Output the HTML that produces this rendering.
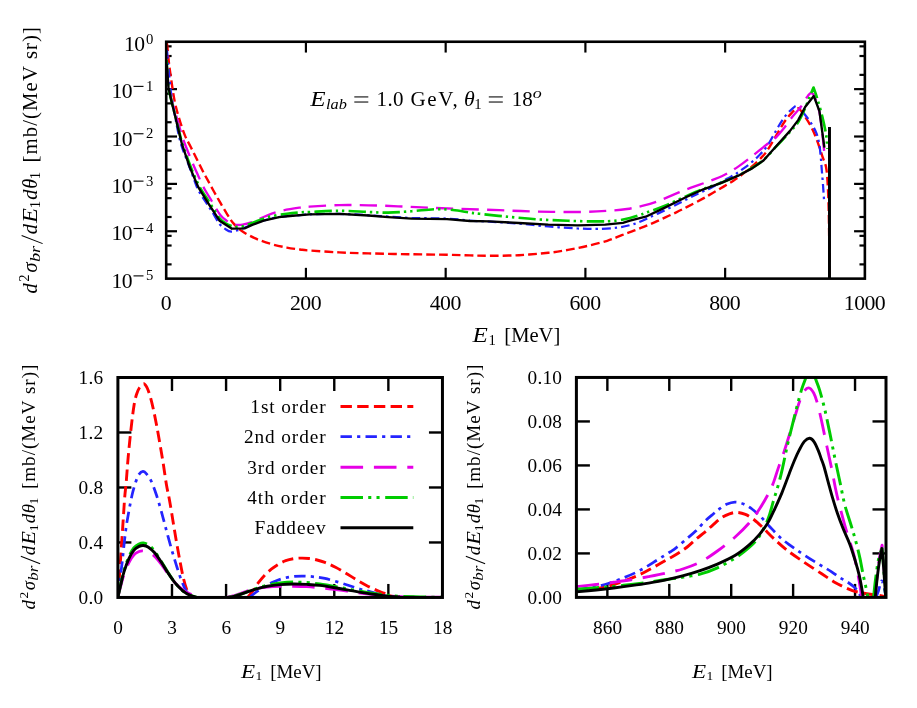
<!DOCTYPE html>
<html><head><meta charset="utf-8"><title>chart</title>
<style>html,body{margin:0;padding:0;background:#fff;}svg{display:block;will-change:transform;}</style>
</head><body>
<svg width="917" height="708" viewBox="0 0 917 708" font-family="'Liberation Serif', serif" fill="#000">
<rect width="917" height="708" fill="#fff"/>
<defs>
<clipPath id="ct"><rect x="166.2" y="40.25" width="698.67" height="239.89"/></clipPath>
<clipPath id="cl"><rect x="117.9" y="376" width="324.55" height="222.95"/></clipPath>
<clipPath id="cr"><rect x="576.4" y="375.95" width="309.6" height="222.95"/></clipPath>
</defs>
<g id="ticks">
<line x1="305.93" y1="278.64" x2="305.93" y2="267.84" stroke="#000" stroke-width="2.2"/>
<line x1="305.93" y1="41.75" x2="305.93" y2="52.55" stroke="#000" stroke-width="2.2"/>
<line x1="445.67" y1="278.64" x2="445.67" y2="267.84" stroke="#000" stroke-width="2.2"/>
<line x1="445.67" y1="41.75" x2="445.67" y2="52.55" stroke="#000" stroke-width="2.2"/>
<line x1="585.4" y1="278.64" x2="585.4" y2="267.84" stroke="#000" stroke-width="2.2"/>
<line x1="585.4" y1="41.75" x2="585.4" y2="52.55" stroke="#000" stroke-width="2.2"/>
<line x1="725.14" y1="278.64" x2="725.14" y2="267.84" stroke="#000" stroke-width="2.2"/>
<line x1="725.14" y1="41.75" x2="725.14" y2="52.55" stroke="#000" stroke-width="2.2"/>
<line x1="166.2" y1="231.26" x2="177" y2="231.26" stroke="#000" stroke-width="2.2"/>
<line x1="864.87" y1="231.26" x2="854.07" y2="231.26" stroke="#000" stroke-width="2.2"/>
<line x1="166.2" y1="183.88" x2="177" y2="183.88" stroke="#000" stroke-width="2.2"/>
<line x1="864.87" y1="183.88" x2="854.07" y2="183.88" stroke="#000" stroke-width="2.2"/>
<line x1="166.2" y1="136.51" x2="177" y2="136.51" stroke="#000" stroke-width="2.2"/>
<line x1="864.87" y1="136.51" x2="854.07" y2="136.51" stroke="#000" stroke-width="2.2"/>
<line x1="166.2" y1="89.13" x2="177" y2="89.13" stroke="#000" stroke-width="2.2"/>
<line x1="864.87" y1="89.13" x2="854.07" y2="89.13" stroke="#000" stroke-width="2.2"/>
<line x1="166.2" y1="264.38" x2="171.6" y2="264.38" stroke="#000" stroke-width="2.2"/>
<line x1="864.87" y1="264.38" x2="859.47" y2="264.38" stroke="#000" stroke-width="2.2"/>
<line x1="166.2" y1="245.52" x2="171.6" y2="245.52" stroke="#000" stroke-width="2.2"/>
<line x1="864.87" y1="245.52" x2="859.47" y2="245.52" stroke="#000" stroke-width="2.2"/>
<line x1="166.2" y1="235.85" x2="171.6" y2="235.85" stroke="#000" stroke-width="2.2"/>
<line x1="864.87" y1="235.85" x2="859.47" y2="235.85" stroke="#000" stroke-width="2.2"/>
<line x1="166.2" y1="217" x2="171.6" y2="217" stroke="#000" stroke-width="2.2"/>
<line x1="864.87" y1="217" x2="859.47" y2="217" stroke="#000" stroke-width="2.2"/>
<line x1="166.2" y1="198.15" x2="171.6" y2="198.15" stroke="#000" stroke-width="2.2"/>
<line x1="864.87" y1="198.15" x2="859.47" y2="198.15" stroke="#000" stroke-width="2.2"/>
<line x1="166.2" y1="188.48" x2="171.6" y2="188.48" stroke="#000" stroke-width="2.2"/>
<line x1="864.87" y1="188.48" x2="859.47" y2="188.48" stroke="#000" stroke-width="2.2"/>
<line x1="166.2" y1="169.62" x2="171.6" y2="169.62" stroke="#000" stroke-width="2.2"/>
<line x1="864.87" y1="169.62" x2="859.47" y2="169.62" stroke="#000" stroke-width="2.2"/>
<line x1="166.2" y1="150.77" x2="171.6" y2="150.77" stroke="#000" stroke-width="2.2"/>
<line x1="864.87" y1="150.77" x2="859.47" y2="150.77" stroke="#000" stroke-width="2.2"/>
<line x1="166.2" y1="141.1" x2="171.6" y2="141.1" stroke="#000" stroke-width="2.2"/>
<line x1="864.87" y1="141.1" x2="859.47" y2="141.1" stroke="#000" stroke-width="2.2"/>
<line x1="166.2" y1="122.24" x2="171.6" y2="122.24" stroke="#000" stroke-width="2.2"/>
<line x1="864.87" y1="122.24" x2="859.47" y2="122.24" stroke="#000" stroke-width="2.2"/>
<line x1="166.2" y1="103.39" x2="171.6" y2="103.39" stroke="#000" stroke-width="2.2"/>
<line x1="864.87" y1="103.39" x2="859.47" y2="103.39" stroke="#000" stroke-width="2.2"/>
<line x1="166.2" y1="93.72" x2="171.6" y2="93.72" stroke="#000" stroke-width="2.2"/>
<line x1="864.87" y1="93.72" x2="859.47" y2="93.72" stroke="#000" stroke-width="2.2"/>
<line x1="166.2" y1="74.87" x2="171.6" y2="74.87" stroke="#000" stroke-width="2.2"/>
<line x1="864.87" y1="74.87" x2="859.47" y2="74.87" stroke="#000" stroke-width="2.2"/>
<line x1="166.2" y1="56.01" x2="171.6" y2="56.01" stroke="#000" stroke-width="2.2"/>
<line x1="864.87" y1="56.01" x2="859.47" y2="56.01" stroke="#000" stroke-width="2.2"/>
<line x1="166.2" y1="46.34" x2="171.6" y2="46.34" stroke="#000" stroke-width="2.2"/>
<line x1="864.87" y1="46.34" x2="859.47" y2="46.34" stroke="#000" stroke-width="2.2"/>
<line x1="171.99" y1="597.45" x2="171.99" y2="583.95" stroke="#000" stroke-width="2.4"/>
<line x1="171.99" y1="377.5" x2="171.99" y2="391" stroke="#000" stroke-width="2.4"/>
<line x1="226.08" y1="597.45" x2="226.08" y2="583.95" stroke="#000" stroke-width="2.4"/>
<line x1="226.08" y1="377.5" x2="226.08" y2="391" stroke="#000" stroke-width="2.4"/>
<line x1="280.17" y1="597.45" x2="280.17" y2="583.95" stroke="#000" stroke-width="2.4"/>
<line x1="280.17" y1="377.5" x2="280.17" y2="391" stroke="#000" stroke-width="2.4"/>
<line x1="334.27" y1="597.45" x2="334.27" y2="583.95" stroke="#000" stroke-width="2.4"/>
<line x1="334.27" y1="377.5" x2="334.27" y2="391" stroke="#000" stroke-width="2.4"/>
<line x1="388.36" y1="597.45" x2="388.36" y2="583.95" stroke="#000" stroke-width="2.4"/>
<line x1="388.36" y1="377.5" x2="388.36" y2="391" stroke="#000" stroke-width="2.4"/>
<line x1="117.9" y1="542.46" x2="131.4" y2="542.46" stroke="#000" stroke-width="2.4"/>
<line x1="442.45" y1="542.46" x2="428.95" y2="542.46" stroke="#000" stroke-width="2.4"/>
<line x1="117.9" y1="487.48" x2="131.4" y2="487.48" stroke="#000" stroke-width="2.4"/>
<line x1="442.45" y1="487.48" x2="428.95" y2="487.48" stroke="#000" stroke-width="2.4"/>
<line x1="117.9" y1="432.49" x2="131.4" y2="432.49" stroke="#000" stroke-width="2.4"/>
<line x1="442.45" y1="432.49" x2="428.95" y2="432.49" stroke="#000" stroke-width="2.4"/>
<line x1="607.36" y1="597.4" x2="607.36" y2="583.9" stroke="#000" stroke-width="2.4"/>
<line x1="607.36" y1="377.45" x2="607.36" y2="390.95" stroke="#000" stroke-width="2.4"/>
<line x1="669.28" y1="597.4" x2="669.28" y2="583.9" stroke="#000" stroke-width="2.4"/>
<line x1="669.28" y1="377.45" x2="669.28" y2="390.95" stroke="#000" stroke-width="2.4"/>
<line x1="731.2" y1="597.4" x2="731.2" y2="583.9" stroke="#000" stroke-width="2.4"/>
<line x1="731.2" y1="377.45" x2="731.2" y2="390.95" stroke="#000" stroke-width="2.4"/>
<line x1="793.12" y1="597.4" x2="793.12" y2="583.9" stroke="#000" stroke-width="2.4"/>
<line x1="793.12" y1="377.45" x2="793.12" y2="390.95" stroke="#000" stroke-width="2.4"/>
<line x1="855.04" y1="597.4" x2="855.04" y2="583.9" stroke="#000" stroke-width="2.4"/>
<line x1="855.04" y1="377.45" x2="855.04" y2="390.95" stroke="#000" stroke-width="2.4"/>
<line x1="576.4" y1="553.41" x2="589.9" y2="553.41" stroke="#000" stroke-width="2.4"/>
<line x1="886" y1="553.41" x2="872.5" y2="553.41" stroke="#000" stroke-width="2.4"/>
<line x1="576.4" y1="509.42" x2="589.9" y2="509.42" stroke="#000" stroke-width="2.4"/>
<line x1="886" y1="509.42" x2="872.5" y2="509.42" stroke="#000" stroke-width="2.4"/>
<line x1="576.4" y1="465.43" x2="589.9" y2="465.43" stroke="#000" stroke-width="2.4"/>
<line x1="886" y1="465.43" x2="872.5" y2="465.43" stroke="#000" stroke-width="2.4"/>
<line x1="576.4" y1="421.44" x2="589.9" y2="421.44" stroke="#000" stroke-width="2.4"/>
<line x1="886" y1="421.44" x2="872.5" y2="421.44" stroke="#000" stroke-width="2.4"/>
</g>
<g id="curves-top">
<path d="M166.8 42.5C166.9 43.25 167.05 43.67 167.4 47C167.75 50.33 168.25 56.97 168.9 62.5C169.55 68.03 170.33 73.72 171.3 80.2C172.27 86.68 173.45 95.22 174.7 101.4C175.95 107.58 177.13 111.72 178.8 117.3C180.47 122.88 182.68 129.9 184.7 134.9C186.72 139.9 188.83 143.17 190.9 147.3C192.97 151.43 195.08 155.67 197.1 159.7C199.12 163.73 201.18 168 203 171.5C204.82 175 205.57 176.28 208 180.7C210.43 185.12 214.4 192.4 217.6 198C220.8 203.6 224.48 209.98 227.2 214.3C229.92 218.62 231.33 221.02 233.9 223.9C236.47 226.78 238.92 229.13 242.6 231.6C246.28 234.07 251.2 236.62 256 238.7C260.8 240.78 266.27 242.62 271.4 244.1C276.53 245.58 282.03 246.7 286.8 247.6C291.57 248.5 296.2 249.02 300 249.5C303.8 249.98 303.08 250.02 309.6 250.5C316.12 250.98 329.28 251.92 339.1 252.4C348.92 252.88 357.05 253.1 368.5 253.4C379.95 253.7 394.72 253.97 407.8 254.2C420.88 254.43 436.63 254.6 447 254.8C457.37 255 462.93 255.23 470 255.4C477.07 255.57 481.25 255.83 489.4 255.8C497.55 255.77 509.08 255.7 518.9 255.2C528.72 254.7 540.12 253.68 548.3 252.8C556.48 251.92 561.45 251.05 568 249.9C574.55 248.75 581.07 247.42 587.6 245.9C594.13 244.38 601.5 242.58 607.2 240.8C612.9 239.02 617.55 236.82 621.8 235.2C626.05 233.58 629.07 232.48 632.7 231.1C636.33 229.72 639.97 228.37 643.6 226.9C647.23 225.43 650.87 223.9 654.5 222.3C658.13 220.7 661.77 218.97 665.4 217.3C669.03 215.63 672.67 214.03 676.3 212.3C679.93 210.57 682.85 209.13 687.2 206.9C691.55 204.67 698.15 201.22 702.4 198.9C706.65 196.58 709.17 195.05 712.7 193C716.23 190.95 720.15 188.65 723.6 186.6C727.05 184.55 730.33 182.7 733.4 180.7C736.47 178.7 738.98 176.88 742 174.6C745.02 172.32 748.28 169.83 751.5 167C754.72 164.17 758.65 160.38 761.3 157.6C763.95 154.82 764.58 154.55 767.4 150.3C770.22 146.05 775.23 137.02 778.2 132.1C781.17 127.18 782.9 124.05 785.2 120.8C787.5 117.55 789.87 114.7 792 112.6C794.13 110.5 796 107.77 798 108.2C800 108.63 801.83 112.15 804 115.2C806.17 118.25 808.9 122.5 811 126.5C813.1 130.5 814.72 134.25 816.6 139.2C818.48 144.15 820.65 151.1 822.3 156.2C823.95 161.3 825.48 162.5 826.5 169.8C827.52 177.1 827.95 188.3 828.4 200C828.85 211.7 829.03 227 829.2 240C829.37 253 829.37 271.67 829.4 278" fill="none" stroke="#ff0000" stroke-width="2.4" stroke-linejoin="round" stroke-dasharray="8.7 4.04" clip-path="url(#ct)"/>
<path d="M167 50C167.17 52 167.6 57.33 168 62C168.4 66.67 168.92 73 169.4 78C169.88 83 170.35 87.83 170.9 92C171.45 96.17 171.97 98.75 172.7 103C173.43 107.25 174.42 112.75 175.3 117.5C176.18 122.25 176.98 126.83 178 131.5C179.02 136.17 179.83 140.5 181.4 145.5C182.97 150.5 185.38 156.08 187.4 161.5C189.42 166.92 191.73 173.33 193.5 178C195.27 182.67 196.08 185.67 198 189.5C199.92 193.33 202.68 197.33 205 201C207.32 204.67 209.48 207.68 211.9 211.5C214.32 215.32 217.15 220.9 219.5 223.9C221.85 226.9 224.07 228.22 226 229.5C227.93 230.78 229.1 231.48 231.1 231.6C233.1 231.72 235.77 230.83 238 230.2C240.23 229.57 242.13 228.75 244.5 227.8C246.87 226.85 249 225.72 252.2 224.5C255.4 223.28 259.22 221.75 263.7 220.5C268.18 219.25 273.05 217.88 279.1 217C285.15 216.12 294.92 215.65 300 215.2C305.08 214.75 303.08 214.52 309.6 214.3C316.12 214.08 329.28 213.73 339.1 213.9C348.92 214.07 360.32 214.85 368.5 215.3C376.68 215.75 381 216.15 388.2 216.6C395.4 217.05 401.9 217.67 411.7 218C421.5 218.33 437.28 218.17 447 218.6C456.72 219.03 462.93 220.1 470 220.6C477.07 221.1 481.25 221.1 489.4 221.6C497.55 222.1 509.08 222.78 518.9 223.6C528.72 224.42 538.48 225.68 548.3 226.5C558.12 227.32 569.62 228.1 577.8 228.5C585.98 228.9 590.87 229.03 597.4 228.9C603.93 228.77 611.43 228.37 617 227.7C622.57 227.03 626.97 225.88 630.8 224.9C634.63 223.92 637.23 222.88 640 221.8C642.77 220.72 643.25 220.33 647.4 218.4C651.55 216.47 659.47 212.8 664.9 210.2C670.33 207.6 675.3 205.17 680 202.8C684.7 200.43 689.73 197.7 693.1 196C696.47 194.3 697.12 194.03 700.2 192.6C703.28 191.17 707.15 189.7 711.6 187.4C716.05 185.1 723.05 180.93 726.9 178.8C730.75 176.67 732.18 176.13 734.7 174.6C737.22 173.07 739.37 171.5 742 169.6C744.63 167.7 747.75 165.47 750.5 163.2C753.25 160.93 755.68 158.92 758.5 156C761.32 153.08 764.08 150.62 767.4 145.7C770.72 140.78 775.4 131.47 778.4 126.5C781.4 121.53 783.1 118.85 785.4 115.9C787.7 112.95 790.17 110.45 792.2 108.8C794.23 107.15 795.6 105.17 797.6 106C799.6 106.83 801.97 110.97 804.2 113.8C806.43 116.63 808.93 119.7 811 123C813.07 126.3 815.2 129.95 816.6 133.6C818 137.25 818.7 140.9 819.4 144.9C820.1 148.9 820.4 153.42 820.8 157.6C821.2 161.78 821.43 165.43 821.8 170C822.17 174.57 822.63 180.1 823 185C823.37 189.9 823.83 197 824 199.4" fill="none" stroke="#2424ff" stroke-width="2.25" stroke-linejoin="round" stroke-dasharray="8.7 3.97 2.44 3.97" clip-path="url(#ct)"/>
<path d="M166.6 56C166.68 58 166.78 63 167.1 68C167.42 73 167.75 80.67 168.5 86C169.25 91.33 170.42 95.42 171.6 100C172.78 104.58 174.27 108.92 175.6 113.5C176.93 118.08 178.27 123 179.6 127.5C180.93 132 181.82 135.5 183.6 140.5C185.38 145.5 188.07 152.08 190.3 157.5C192.53 162.92 194.72 167.92 197 173C199.28 178.08 201.5 183.25 204 188C206.5 192.75 209.28 197 212 201.5C214.72 206 217.88 211.82 220.3 215C222.72 218.18 224.62 219.18 226.5 220.6C228.38 222.02 229.85 222.78 231.6 223.5C233.35 224.22 235.17 224.72 237 224.9C238.83 225.08 240.07 225.08 242.6 224.6C245.13 224.12 248.05 223.55 252.2 222C256.35 220.45 262.38 217.22 267.5 215.3C272.62 213.38 277.48 211.78 282.9 210.5C288.32 209.22 295.55 208.23 300 207.6C304.45 206.97 303.08 207.12 309.6 206.7C316.12 206.28 329.28 205.33 339.1 205.1C348.92 204.87 358.68 205.1 368.5 205.3C378.32 205.5 388.18 205.9 398 206.3C407.82 206.7 417.07 207.28 427.4 207.7C437.73 208.12 448.02 208.38 460 208.8C471.98 209.22 486.22 209.73 499.3 210.2C512.38 210.67 525.42 211.3 538.5 211.6C551.58 211.9 566.35 212.13 577.8 212C589.25 211.87 599.02 211.3 607.2 210.8C615.38 210.3 621.07 209.82 626.9 209C632.73 208.18 637.32 207.08 642.2 205.9C647.08 204.72 650.97 203.78 656.2 201.9C661.43 200.02 667.78 196.98 673.6 194.6C679.42 192.22 685.28 189.78 691.1 187.6C696.92 185.42 702.98 183.6 708.5 181.5C714.02 179.4 719.25 177.48 724.2 175C729.15 172.52 733.55 169.73 738.2 166.6C742.85 163.47 746.87 160.27 752.1 156.2C757.33 152.13 765.92 145.03 769.6 142.2C773.28 139.37 771.78 141.58 774.2 139.2C776.62 136.82 781.03 131.67 784.1 127.9C787.17 124.13 789.88 120.02 792.6 116.6C795.32 113.18 798.05 110.58 800.4 107.4C802.75 104.22 804.93 99.9 806.7 97.5C808.47 95.1 809.7 93.17 811 93C812.3 92.83 813.1 93.33 814.5 96.5C815.9 99.67 818.07 105.58 819.4 112C820.73 118.42 821.63 127.67 822.5 135C823.37 142.33 824.25 152.5 824.6 156" fill="none" stroke="#e600e6" stroke-width="2.35" stroke-linejoin="round" stroke-dasharray="17.24 8.24" clip-path="url(#ct)" stroke-dashoffset="15.9"/>
<path d="M166.6 60C166.7 61.67 166.88 65.5 167.2 70C167.52 74.5 167.78 81.83 168.5 87C169.22 92.17 170.4 96.33 171.5 101C172.6 105.67 173.88 110.17 175.1 115C176.32 119.83 177.58 125.2 178.8 130C180.02 134.8 180.5 137.88 182.4 143.8C184.3 149.72 187.5 158.63 190.2 165.5C192.9 172.37 195.97 179.75 198.6 185C201.23 190.25 203.6 193.17 206 197C208.4 200.83 210.67 204.37 213 208C215.33 211.63 217.83 216.2 220 218.8C222.17 221.4 223.83 222.33 226 223.6C228.17 224.87 231 225.87 233 226.4C235 226.93 236.08 226.88 238 226.8C239.92 226.72 241.5 226.8 244.5 225.9C247.5 225 251.52 223 256 221.4C260.48 219.8 266.27 217.57 271.4 216.3C276.53 215.03 282.03 214.45 286.8 213.8C291.57 213.15 296.2 212.7 300 212.4C303.8 212.1 303.08 212.27 309.6 212C316.12 211.73 329.28 210.8 339.1 210.8C348.92 210.8 360.32 211.7 368.5 212C376.68 212.3 381 212.73 388.2 212.6C395.4 212.47 403.85 211.77 411.7 211.2C419.55 210.63 428.43 209.4 435.3 209.2C442.17 209 447.12 209.43 452.9 210C458.68 210.57 465.55 211.97 470 212.6C474.45 213.23 473.08 213.08 479.6 213.8C486.12 214.52 499.28 215.97 509.1 216.9C518.92 217.83 528.68 218.75 538.5 219.4C548.32 220.05 558.18 220.47 568 220.8C577.82 221.13 589.23 221.43 597.4 221.4C605.57 221.37 611.43 221.2 617 220.6C622.57 220 626.97 218.73 630.8 217.8C634.63 216.87 637.23 215.93 640 215C642.77 214.07 643.25 213.73 647.4 212.2C651.55 210.67 658.5 208.43 664.9 205.8C671.3 203.17 679.4 199.2 685.8 196.4C692.2 193.6 697.48 191.23 703.3 189C709.12 186.77 714.88 185.27 720.7 183C726.52 180.73 732.97 177.93 738.2 175.4C743.43 172.87 747.88 170.37 752.1 167.8C756.32 165.23 759.42 163.6 763.5 160C767.58 156.4 772.18 150.9 776.6 146.2C781.02 141.5 786.37 135.87 790 131.8C793.63 127.73 795.8 125.93 798.4 121.8C801 117.67 803.67 111.3 805.6 107C807.53 102.7 808.68 99.25 810 96C811.32 92.75 813.5 87.5 813.5 87.5C813.5 87.5 815.93 94.15 817.4 99C818.87 103.85 820.87 110.77 822.3 116.6C823.73 122.43 825.22 129.43 826 134C826.78 138.57 826.78 141.5 827 144C827.22 146.5 827.25 148.17 827.3 149" fill="none" stroke="#00cc00" stroke-width="2.65" stroke-linejoin="round" stroke-dasharray="17.17 3.97 2.37 3.97 2.37 4.27" clip-path="url(#ct)" stroke-dashoffset="4.22"/>
<path d="M166.6 64L167.2 70L168.5 87.2L171.5 101.4L175 115.5L178.6 130.5L182.1 144.7L189.8 167.3L198.4 187.4L208 202.8L219.5 220.7L232 228.7L244.5 228.4L252.2 224.9L263.7 220.7L279.1 217.2L290 216L309.6 214.3L339.1 213.9L368.5 215.5L388.2 217.1L411.7 218.7L447 219.1L470 221L489.4 221.4L518.9 223L548.3 224.6L577.8 225.3L605.3 224.7L622.9 222.8L630 220.7L645.7 216.7L664.9 207.6L685.8 197.2L703.3 189.3L720.7 183.2L738.2 175.7L752.1 168.4L763.5 160.5L776.6 145.7L790 130.9L798.2 120.1L805.3 106.7L813.8 96.1L819.4 111L824.4 147.7M829.5 127.2L829.5 278.5" fill="none" stroke="#000000" stroke-width="2.35" stroke-linejoin="round" clip-path="url(#ct)"/>
</g>
<line x1="829.45" y1="127.0" x2="829.45" y2="278.6" stroke="#000" stroke-width="2.9"/>
<g id="curves-bl">
<path d="M117.8 597.42C117.93 595.97 118.3 592.62 118.6 588.69C118.9 584.76 119.15 580.56 119.6 573.84C120.05 567.12 120.73 556.85 121.3 548.36C121.87 539.86 122.43 531.37 123 522.88C123.57 514.38 124.15 504.35 124.7 497.39C125.25 490.44 125.72 487.91 126.3 481.14C126.88 474.37 127.38 465.72 128.2 456.76C129.02 447.8 130.25 435.79 131.2 427.36C132.15 418.94 133.03 411.63 133.9 406.19C134.77 400.76 135.45 397.88 136.4 394.76C137.35 391.63 138.38 389.27 139.6 387.43C140.82 385.59 142.48 383.72 143.7 383.72C144.92 383.72 145.82 385.31 146.9 387.43C147.98 389.56 149.12 392.78 150.2 396.46C151.28 400.14 152.32 404.62 153.4 409.5C154.48 414.39 155.62 420.06 156.7 425.76C157.78 431.46 158.82 437.46 159.9 443.72C160.98 449.97 162.12 456.49 163.2 463.28C164.28 470.07 165.33 478.21 166.4 484.45C167.47 490.69 168.5 494.58 169.6 500.7C170.7 506.82 171.87 514.36 173 521.17C174.13 527.98 175.27 535.02 176.4 541.54C177.53 548.06 178.67 554.35 179.8 560.3C180.93 566.25 182.07 572.44 183.2 577.25C184.33 582.07 185.47 586.12 186.6 589.19C187.73 592.27 188.85 594.34 190 595.71C191.15 597.09 192.92 597.14 193.5 597.42M247.7 597.42C248.57 596.33 251.15 593.31 252.9 590.9C254.65 588.49 256.23 585.6 258.2 582.97C260.17 580.35 262.52 577.44 264.7 575.15C266.88 572.86 269.12 570.98 271.3 569.23C273.48 567.47 275.4 566.03 277.8 564.61C280.2 563.19 283.08 561.69 285.7 560.7C288.32 559.71 290.88 559.13 293.5 558.69C296.12 558.26 298.78 558.12 301.4 558.09C304.02 558.06 306.58 558.17 309.2 558.49C311.82 558.81 314.48 559.35 317.1 560C319.72 560.65 321.83 561.2 324.9 562.41C327.97 563.61 332 565.43 335.5 567.22C339 569.01 342.42 571.05 345.9 573.14C349.38 575.23 352.9 577.67 356.4 579.76C359.9 581.85 363.42 583.88 366.9 585.68C370.38 587.49 374.47 589.34 377.3 590.6C380.13 591.85 382.03 592.42 383.9 593.21C385.77 593.99 386.65 594.69 388.5 595.31C390.35 595.93 393.92 596.65 395 596.92" fill="none" stroke="#ff0000" stroke-width="2.9" stroke-linejoin="round" stroke-dasharray="11.4 5.3" clip-path="url(#cl)"/>
<path d="M117.8 597.42C118.03 595.46 118.75 589.31 119.2 585.68C119.65 582.05 120 579.59 120.5 575.65C121 571.7 121.35 569.39 122.2 562C123.05 554.61 124.48 539.81 125.6 531.3C126.72 522.79 127.78 517.16 128.9 510.94C130.02 504.72 131.17 498.8 132.3 493.98C133.43 489.17 134.62 485.27 135.7 482.04C136.78 478.82 137.6 476.39 138.8 474.62C140 472.85 141.55 471.46 142.9 471.41C144.25 471.36 145.48 472.63 146.9 474.32C148.32 476.01 149.87 478.26 151.4 481.54C152.93 484.82 154.47 489.08 156.1 493.98C157.73 498.88 159.52 504.98 161.2 510.94C162.88 516.89 164.52 523.46 166.2 529.7C167.88 535.94 169.6 542.42 171.3 548.36C173 554.3 174.7 559.93 176.4 565.31C178.1 570.7 179.8 576.27 181.5 580.67C183.2 585.06 184.93 589.03 186.6 591.7C188.27 594.38 190.27 595.76 191.5 596.72C192.73 597.67 193.58 597.3 194 597.42M249.7 597.42C250.47 596.77 252.45 594.93 254.3 593.51C256.15 592.09 258.63 590.31 260.8 588.89C262.97 587.47 265.12 586.18 267.3 584.98C269.48 583.78 271.28 582.76 273.9 581.67C276.52 580.58 279.73 579.33 283 578.46C286.27 577.59 290 576.85 293.5 576.45C297 576.05 300.5 575.98 304 576.05C307.5 576.12 311.02 576.45 314.5 576.85C317.98 577.25 320.97 577.59 324.9 578.46C328.83 579.33 333.72 580.77 338.1 582.07C342.48 583.37 347.28 585.03 351.2 586.28C355.12 587.54 358.77 588.78 361.6 589.59C364.43 590.41 365.63 590.51 368.2 591.2C370.77 591.89 374.37 592.96 377 593.71C379.63 594.46 381.5 595.15 384 595.71C386.5 596.28 390.67 596.88 392 597.12" fill="none" stroke="#2424ff" stroke-width="2.75" stroke-linejoin="round" stroke-dasharray="11.4 5.2 3.2 5.2" clip-path="url(#cl)"/>
<path d="M117.8 597.42C118.25 595.7 119.48 590.85 120.5 587.09C121.52 583.32 122.5 578.93 123.9 574.85C125.3 570.77 127.22 565.95 128.9 562.61C130.58 559.26 132.3 556.62 134 554.78C135.7 552.94 137.67 552.22 139.1 551.57C140.53 550.92 141.05 550.77 142.6 550.87C144.15 550.97 146.43 551.3 148.4 552.17C150.37 553.04 152.27 554.11 154.4 556.08C156.53 558.06 158.92 561.05 161.2 564.01C163.48 566.97 165.72 570.65 168.1 573.84C170.48 577.04 172.92 580.43 175.5 583.17C178.08 585.92 180.93 588.41 183.6 590.3C186.27 592.19 189.3 593.47 191.5 594.51C193.7 595.55 195.3 596.03 196.8 596.52C198.3 597 199.88 597.27 200.5 597.42M226.8 597.42C227.83 597.17 230.77 596.57 233 595.92C235.23 595.26 236.82 594.61 240.2 593.51C243.58 592.4 248.78 590.36 253.3 589.29C257.82 588.22 262.78 587.59 267.3 587.09C271.82 586.58 276.03 586.42 280.4 586.28C284.77 586.15 289.13 586.22 293.5 586.28C297.87 586.35 302.23 586.45 306.6 586.68C310.97 586.92 314.45 587.15 319.7 587.69C324.95 588.22 332.85 589.23 338.1 589.9C343.35 590.56 346.83 591.1 351.2 591.7C355.57 592.3 359.95 592.96 364.3 593.51C368.65 594.06 373.38 594.61 377.3 595.01C381.22 595.41 384.02 595.65 387.8 595.92C391.58 596.18 394.63 596.43 400 596.62C405.37 596.8 413.17 596.92 420 597.02C426.83 597.12 437.5 597.19 441 597.22" fill="none" stroke="#e600e6" stroke-width="2.85" stroke-linejoin="round" stroke-dasharray="22.6 10.8" clip-path="url(#cl)"/>
<path d="M117.8 597.42C118.25 595.36 119.48 589.51 120.5 585.08C121.52 580.65 122.5 575.58 123.9 570.83C125.3 566.08 127.22 560.43 128.9 556.59C130.58 552.74 132.3 549.86 134 547.76C135.7 545.65 137.53 544.75 139.1 543.94C140.67 543.14 141.85 542.79 143.4 542.94C144.95 543.09 146.57 543.53 148.4 544.85C150.23 546.17 152.27 548.14 154.4 550.87C156.53 553.59 158.92 557.57 161.2 561.2C163.48 564.83 165.75 569.01 168.1 572.64C170.45 576.27 172.85 579.93 175.3 582.97C177.75 586.02 180.32 588.83 182.8 590.9C185.28 592.97 187.78 594.33 190.2 595.41C192.62 596.5 196.12 597.09 197.3 597.42M228.1 597.42C229.08 597.24 231.82 596.88 234 596.32C236.18 595.75 237.82 595.21 241.2 594.01C244.58 592.8 249.95 590.58 254.3 589.09C258.65 587.6 262.95 586.1 267.3 585.08C271.65 584.06 276.03 583.47 280.4 582.97C284.77 582.47 289.13 582.14 293.5 582.07C297.87 582 302.23 582.25 306.6 582.57C310.97 582.89 314.45 583.22 319.7 583.98C324.95 584.73 332.85 586.15 338.1 587.09C343.35 588.02 346.83 588.79 351.2 589.59C355.57 590.4 359.95 591.18 364.3 591.9C368.65 592.62 373.38 593.34 377.3 593.91C381.22 594.48 384.02 594.91 387.8 595.31C391.58 595.71 394.63 596.05 400 596.32C405.37 596.58 413.17 596.77 420 596.92C426.83 597.07 437.5 597.17 441 597.22" fill="none" stroke="#00cc00" stroke-width="2.95" stroke-linejoin="round" stroke-dasharray="22.5 5.2 3.1 5.2 3.1 5.6" clip-path="url(#cl)"/>
<path d="M117.8 597.42C118.25 595.48 119.48 590 120.5 585.78C121.52 581.57 122.5 576.67 123.9 572.14C125.3 567.61 127.22 562.27 128.9 558.59C130.58 554.91 132.3 552.1 134 550.06C135.7 548.02 137.53 547.12 139.1 546.35C140.67 545.58 141.85 545.32 143.4 545.45C144.95 545.58 146.57 545.97 148.4 547.16C150.23 548.34 152.27 550.1 154.4 552.57C156.53 555.05 158.92 558.59 161.2 562C163.48 565.42 165.75 569.51 168.1 573.04C170.45 576.57 172.85 580.2 175.3 583.17C177.75 586.15 180.32 588.86 182.8 590.9C185.28 592.94 187.78 594.33 190.2 595.41C192.62 596.5 196.12 597.09 197.3 597.42M228.1 597.42C229.08 597.24 231.82 596.85 234 596.32C236.18 595.78 237.82 595.33 241.2 594.21C244.58 593.09 249.95 590.92 254.3 589.59C258.65 588.27 262.95 587.12 267.3 586.28C271.65 585.45 276.03 584.96 280.4 584.58C284.77 584.19 289.13 584.01 293.5 583.98C297.87 583.94 302.23 584.14 306.6 584.38C310.97 584.61 314.45 584.73 319.7 585.38C324.95 586.03 332.85 587.42 338.1 588.29C343.35 589.16 346.83 589.83 351.2 590.6C355.57 591.37 359.95 592.2 364.3 592.91C368.65 593.61 373.38 594.28 377.3 594.81C381.22 595.35 384.02 595.75 387.8 596.12C391.58 596.48 397.97 596.87 400 597.02" fill="none" stroke="#000000" stroke-width="2.9" stroke-linejoin="round" clip-path="url(#cl)"/>
</g>
<g id="curves-br">
<path d="M576.5 590.9C578.75 590.6 585.27 589.73 590 589.09C594.73 588.46 599.52 588.34 604.9 587.09C610.28 585.83 616.48 583.66 622.3 581.57C628.12 579.48 633.98 577.27 639.8 574.55C645.62 571.82 652.17 567.97 657.2 565.21C662.23 562.46 666.38 560.06 670 557.99C673.62 555.92 675.98 554.65 678.9 552.77C681.82 550.9 684.62 549.04 687.5 546.75C690.38 544.46 693.35 541.44 696.2 539.03C699.05 536.62 701.83 534.63 704.6 532.31C707.37 529.98 710 527.49 712.8 525.08C715.6 522.68 718.62 519.73 721.4 517.86C724.18 515.99 726.9 514.77 729.5 513.85C732.1 512.93 734.35 512.24 737 512.34C739.65 512.44 742.55 513.21 745.4 514.45C748.25 515.69 751.2 517.58 754.1 519.77C757 521.96 759.6 524.53 762.8 527.59C766 530.65 769.23 534.33 773.3 538.13C777.37 541.92 781.97 546.29 787.2 550.37C792.43 554.45 798.88 558.66 804.7 562.61C810.52 566.55 817.05 570.73 822.1 574.04C827.15 577.35 831.5 580.4 835 582.47C838.5 584.54 840.2 585.13 843.1 586.48C846 587.84 849.28 589.54 852.4 590.6C855.52 591.65 858.43 592.14 861.8 592.8C865.17 593.47 869.23 594.09 872.6 594.61C875.97 595.13 879.77 595.5 882 595.92C884.23 596.33 885.33 596.92 886 597.12" fill="none" stroke="#ff0000" stroke-width="2.9" stroke-linejoin="round" stroke-dasharray="11.4 5.3" clip-path="url(#cr)"/>
<path d="M576.5 590C578.75 589.61 585.27 588.61 590 587.69C594.73 586.77 599.52 586.03 604.9 584.48C610.28 582.92 616.48 580.68 622.3 578.36C628.12 576.03 633.98 573.59 639.8 570.53C645.62 567.47 652.17 563.09 657.2 560C662.23 556.9 666.8 554.04 670 551.97C673.2 549.9 673.52 549.83 676.4 547.56C679.28 545.28 684.08 541.07 687.3 538.33C690.52 535.58 692.73 534 695.7 531.1C698.67 528.21 702.13 523.86 705.1 520.97C708.07 518.08 711.18 515.7 713.5 513.75C715.82 511.79 716.83 510.8 719 509.23C721.17 507.66 723.85 505.52 726.5 504.32C729.15 503.11 732.05 502.06 734.9 502.01C737.75 501.96 740.7 502.81 743.6 504.01C746.5 505.22 749.38 507.06 752.3 509.23C755.22 511.41 758.18 514.15 761.1 517.06C764.02 519.97 766.32 523.03 769.8 526.69C773.28 530.35 777.63 535.23 782 539.03C786.37 542.82 790.77 545.82 796 549.46C801.23 553.11 807.58 557.26 813.4 560.9C819.22 564.55 826.63 568.63 830.9 571.33C835.17 574.04 836.3 575.41 839 577.15C841.7 578.89 844.42 579.98 847.1 581.77C849.78 583.56 853.08 585.87 855.1 587.89C857.12 589.91 858.13 592.4 859.2 593.91C860.27 595.41 861.12 596.42 861.5 596.92M876 596.92C876.42 595.88 877.62 593.32 878.5 590.7C879.38 588.07 880.55 582.34 881.3 581.17C882.05 580 882.42 582.09 883 583.67C883.58 585.26 884.32 588.49 884.8 590.7C885.28 592.91 885.72 595.88 885.9 596.92" fill="none" stroke="#2424ff" stroke-width="2.75" stroke-linejoin="round" stroke-dasharray="11.4 5.2 3.2 5.2" clip-path="url(#cr)"/>
<path d="M576.5 586.58C579.78 586.23 590.02 585.2 596.2 584.48C602.38 583.76 607.78 583.06 613.6 582.27C619.42 581.48 625.28 580.7 631.1 579.76C636.92 578.83 642.68 577.76 648.5 576.65C654.32 575.55 660.18 574.46 666 573.14C671.82 571.82 677.58 570.63 683.4 568.73C689.22 566.82 695.23 564.66 700.9 561.7C706.57 558.74 711.73 555.05 717.4 550.97C723.07 546.89 729.65 541.84 734.9 537.22C740.15 532.61 744.83 527.94 748.9 523.28C752.97 518.61 756.1 514.05 759.3 509.23C762.5 504.42 765.82 498.61 768.1 494.38C770.38 490.15 771.33 488.15 773 483.85C774.67 479.55 776.25 473.97 778.1 468.6C779.95 463.23 782.12 457.6 784.1 451.64C786.08 445.69 788.17 438.83 790 432.88C791.83 426.93 793.55 421.03 795.1 415.93C796.65 410.83 797.88 406.26 799.3 402.28C800.72 398.3 802.05 394.46 803.6 392.05C805.15 389.64 806.92 387.68 808.6 387.83C810.28 387.98 812.2 390.26 813.7 392.95C815.2 395.64 816.17 398.75 817.6 403.99C819.03 409.22 820.75 417.26 822.3 424.35C823.85 431.44 825.28 438.87 826.9 446.53C828.52 454.18 830.55 463.23 832 470.3C833.45 477.38 834.45 483.5 835.6 488.96C836.75 494.43 837.17 496.37 838.9 503.11C840.63 509.85 843.55 520.94 846 529.4C848.45 537.86 851.6 546.34 853.6 553.88C855.6 561.42 856.87 568.84 858 574.65C859.13 580.45 859.83 584.98 860.4 588.69C860.97 592.4 861.23 595.55 861.4 596.92M875 596.92C875.33 593.71 876.25 584.13 877 577.66C877.75 571.18 878.65 563.51 879.5 558.09C880.35 552.67 882.1 545.15 882.1 545.15C882.1 545.15 883.23 557.69 883.7 564.11C884.17 570.53 884.53 578.21 884.9 583.67C885.27 589.14 885.73 594.71 885.9 596.92" fill="none" stroke="#e600e6" stroke-width="2.85" stroke-linejoin="round" stroke-dasharray="22.6 10.8" clip-path="url(#cr)"/>
<path d="M576.5 589.19C579.78 588.96 590.02 588.26 596.2 587.79C602.38 587.32 607.78 586.94 613.6 586.38C619.42 585.83 625.28 585.16 631.1 584.48C636.92 583.79 645.6 582.64 648.5 582.27" fill="none" stroke="#00cc00" stroke-width="2.95" stroke-linejoin="round" stroke-dasharray="22.5 5.2 3.1 5.2 3.1 5.6" clip-path="url(#cr)" stroke-dashoffset="0"/>
<path d="M648.5 582.27C651.42 581.82 660.18 580.41 666 579.56C671.82 578.71 677.58 578.11 683.4 577.15C689.22 576.2 695.23 575.4 700.9 573.84C706.57 572.29 711.73 570.43 717.4 567.82C723.07 565.21 729.65 561.54 734.9 558.19C740.15 554.85 744.83 551.4 748.9 547.76C752.97 544.11 756.1 541.14 759.3 536.32C762.5 531.5 765.77 524.7 768.1 518.86C770.43 513.03 771.6 506.96 773.3 501.31C775 495.65 776.78 490.4 778.3 484.95C779.82 479.5 780.87 475.29 782.4 468.6C783.93 461.91 785.82 452.19 787.5 444.82C789.18 437.45 790.82 431.16 792.5 424.35C794.18 417.55 796.03 409.94 797.6 403.99C799.17 398.03 800.62 392.75 801.9 388.64C803.18 384.52 804.53 381.35 805.3 379.31C806.07 377.27 806.3 376.88 806.5 376.4" fill="none" stroke="#00cc00" stroke-width="2.95" stroke-linejoin="round" stroke-dasharray="22.5 5.2 3.1 5.2 3.1 5.6" clip-path="url(#cr)" stroke-dashoffset="84.15"/>
<path d="M814.6 376.4C814.8 376.93 814.95 377.28 815.8 379.61C816.65 381.93 818.22 385.43 819.7 390.34C821.18 395.26 823.02 402.01 824.7 409.1C826.38 416.19 828.1 424.67 829.8 432.88C831.5 441.09 833.2 450.14 834.9 458.36C836.6 466.59 838.35 474.5 840 482.24C841.65 489.98 842.95 497.64 844.8 504.82C846.65 511.99 849.27 519.18 851.1 525.28C852.93 531.39 854.35 536.05 855.8 541.44C857.25 546.82 858.57 551.99 859.8 557.59C861.03 563.19 862.18 570.11 863.2 575.05C864.22 579.98 865.12 583.54 865.9 587.19C866.68 590.83 867.57 595.3 867.9 596.92" fill="none" stroke="#00cc00" stroke-width="2.95" stroke-linejoin="round" stroke-dasharray="22.5 5.2 3.1 5.2 3.1 5.6" clip-path="url(#cr)" stroke-dashoffset="0"/>
<path d="M873.6 596.92C873.9 594.18 874.68 586.18 875.4 580.46C876.12 574.75 877.13 567 877.9 562.61C878.67 558.21 879.32 556.42 880 554.08C880.68 551.74 882 548.56 882 548.56C882 548.56 883.05 559.76 883.5 565.62C883.95 571.47 884.33 578.46 884.7 583.67C885.07 588.89 885.53 594.71 885.7 596.92" fill="none" stroke="#00cc00" stroke-width="2.95" stroke-linejoin="round" stroke-dasharray="22.5 5.2 3.1 5.2 3.1 5.6" clip-path="url(#cr)" stroke-dashoffset="0"/>
<path d="M576.5 591.9C579.78 591.58 590.02 590.65 596.2 590C602.38 589.34 607.78 588.71 613.6 587.99C619.42 587.27 625.28 586.5 631.1 585.68C636.92 584.86 642.68 584.04 648.5 583.07C654.32 582.1 660.18 581.1 666 579.86C671.82 578.63 677.58 577.24 683.4 575.65C689.22 574.06 695.23 572.25 700.9 570.33C706.57 568.41 711.73 566.57 717.4 564.11C723.07 561.65 729.65 558.74 734.9 555.58C740.15 552.42 744.83 548.64 748.9 545.15C752.97 541.65 756.1 538.41 759.3 534.61C762.5 530.82 765.48 526.76 768.1 522.37C770.72 517.99 772.68 513.29 775 508.33C777.32 503.36 779.63 498.35 782 492.58C784.37 486.81 787.17 478.98 789.2 473.71C791.23 468.45 792.52 464.94 794.2 460.97C795.88 457.01 797.6 453.2 799.3 449.94C801 446.68 802.7 443.35 804.4 441.41C806.1 439.47 807.88 438.23 809.5 438.3C811.12 438.37 812.62 439.72 814.1 441.81C815.58 443.9 817.22 448.03 818.4 450.84C819.58 453.65 820.27 456.06 821.2 458.67C822.13 461.27 822.83 462.58 824 466.49C825.17 470.4 826.78 476.94 828.2 482.14C829.62 487.34 830.97 492.51 832.5 497.69C834.03 502.88 835.63 508.11 837.4 513.24C839.17 518.38 841.03 523.34 843.1 528.49C845.17 533.64 847.8 538.84 849.8 544.15C851.8 549.45 853.53 555.15 855.1 560.3C856.67 565.45 858.08 570.33 859.2 575.05C860.32 579.76 861.13 584.95 861.8 588.59C862.47 592.24 862.97 595.53 863.2 596.92M875.3 596.92C875.62 593.79 876.48 584.29 877.2 578.16C877.92 572.02 878.8 565.03 879.6 560.1C880.4 555.16 882 548.56 882 548.56C882 548.56 883.05 559.76 883.5 565.62C883.95 571.47 884.33 578.46 884.7 583.67C885.07 588.89 885.53 594.71 885.7 596.92" fill="none" stroke="#000000" stroke-width="2.9" stroke-linejoin="round" clip-path="url(#cr)"/>
</g>
<g id="frames">
<rect x="166.2" y="41.75" width="698.67" height="236.89" fill="none" stroke="#000" stroke-width="2.6"/>
<rect x="117.9" y="377.5" width="324.55" height="219.95" fill="none" stroke="#000" stroke-width="3.0"/>
<rect x="576.4" y="377.45" width="309.6" height="219.95" fill="none" stroke="#000" stroke-width="3.0"/>
</g>
<g id="legend">
<line x1="340.5" y1="406.5" x2="413.3" y2="406.5" stroke="#ff0000" stroke-width="2.9" stroke-dasharray="11.4 5.3"/>
<text x="250.33" y="413.2" font-size="19.3" textLength="75.27" lengthAdjust="spacing">1st order</text>
<line x1="340.5" y1="436.7" x2="413.3" y2="436.7" stroke="#2424ff" stroke-width="2.75" stroke-dasharray="11.4 5.2 3.2 5.2"/>
<text x="243.98" y="443.4" font-size="19.3" textLength="81.62" lengthAdjust="spacing">2nd order</text>
<line x1="340.5" y1="467.2" x2="413.3" y2="467.2" stroke="#e600e6" stroke-width="2.85" stroke-dasharray="22.6 10.8"/>
<text x="247.15" y="473.9" font-size="19.3" textLength="78.45" lengthAdjust="spacing">3rd order</text>
<line x1="340.5" y1="497.4" x2="413.3" y2="497.4" stroke="#00cc00" stroke-width="2.95" stroke-dasharray="22.5 5.2 3.1 5.2 3.1 5.6"/>
<text x="247.2" y="504.1" font-size="19.3" textLength="78.4" lengthAdjust="spacing">4th order</text>
<line x1="340.5" y1="527.7" x2="413.3" y2="527.7" stroke="#000000" stroke-width="2.9"/>
<text x="254.56" y="534.4" font-size="19.3" textLength="71.04" lengthAdjust="spacing">Faddeev</text>
</g>
<g id="ticklabels">
<text x="160.85" y="309.6" font-size="21.84">0</text>
<text x="290.08" y="309.6" font-size="21.84" textLength="31.5" lengthAdjust="spacing">200</text>
<text x="429.82" y="309.6" font-size="21.84" textLength="31.5" lengthAdjust="spacing">400</text>
<text x="569.55" y="309.6" font-size="21.84" textLength="31.5" lengthAdjust="spacing">600</text>
<text x="709.29" y="309.6" font-size="21.84" textLength="31.5" lengthAdjust="spacing">800</text>
<text x="843.77" y="309.6" font-size="21.84" textLength="42" lengthAdjust="spacing">1000</text>
<text x="145.96" y="43.55" font-size="14.7">0</text>
<text x="123.96" y="50.95" font-size="21.63" textLength="21" lengthAdjust="spacing">10</text>
<text x="145.96" y="90.93" font-size="14.7">1</text>
<rect x="133.5" y="85.83" width="10.0" height="1.1"/>
<text x="111.5" y="98.33" font-size="21.63" textLength="21" lengthAdjust="spacing">10</text>
<text x="145.96" y="138.31" font-size="14.7">2</text>
<rect x="133.5" y="133.21" width="10.0" height="1.1"/>
<text x="111.5" y="145.71" font-size="21.63" textLength="21" lengthAdjust="spacing">10</text>
<text x="145.96" y="185.68" font-size="14.7">3</text>
<rect x="133.5" y="180.58" width="10.0" height="1.1"/>
<text x="111.5" y="193.08" font-size="21.63" textLength="21" lengthAdjust="spacing">10</text>
<text x="145.96" y="233.06" font-size="14.7">4</text>
<rect x="133.5" y="227.96" width="10.0" height="1.1"/>
<text x="111.5" y="240.46" font-size="21.63" textLength="21" lengthAdjust="spacing">10</text>
<text x="145.96" y="280.44" font-size="14.7">5</text>
<rect x="133.5" y="275.34" width="10.0" height="1.1"/>
<text x="111.5" y="287.84" font-size="21.63" textLength="21" lengthAdjust="spacing">10</text>
<text x="113.28" y="634.4" font-size="19.3">0</text>
<text x="167.37" y="634.4" font-size="19.3">3</text>
<text x="221.46" y="634.4" font-size="19.3">6</text>
<text x="275.55" y="634.4" font-size="19.3">9</text>
<text x="324.82" y="634.4" font-size="19.3" textLength="19.3" lengthAdjust="spacing">12</text>
<text x="378.91" y="634.4" font-size="19.3" textLength="19.3" lengthAdjust="spacing">15</text>
<text x="433" y="634.4" font-size="19.3" textLength="19.3" lengthAdjust="spacing">18</text>
<text x="78.53" y="603.85" font-size="19.3" textLength="24.67" lengthAdjust="spacing">0.0</text>
<text x="78.53" y="548.86" font-size="19.3" textLength="24.67" lengthAdjust="spacing">0.4</text>
<text x="78.53" y="493.88" font-size="19.3" textLength="24.67" lengthAdjust="spacing">0.8</text>
<text x="78.53" y="438.89" font-size="19.3" textLength="24.67" lengthAdjust="spacing">1.2</text>
<text x="78.53" y="383.9" font-size="19.3" textLength="24.67" lengthAdjust="spacing">1.6</text>
<text x="593.09" y="634.4" font-size="19.3" textLength="28.95" lengthAdjust="spacing">860</text>
<text x="655" y="634.4" font-size="19.3" textLength="28.95" lengthAdjust="spacing">880</text>
<text x="716.93" y="634.4" font-size="19.3" textLength="28.95" lengthAdjust="spacing">900</text>
<text x="778.85" y="634.4" font-size="19.3" textLength="28.95" lengthAdjust="spacing">920</text>
<text x="840.76" y="634.4" font-size="19.3" textLength="28.95" lengthAdjust="spacing">940</text>
<text x="527.58" y="603.8" font-size="19.3" textLength="34.32" lengthAdjust="spacing">0.00</text>
<text x="527.58" y="559.81" font-size="19.3" textLength="34.32" lengthAdjust="spacing">0.02</text>
<text x="527.58" y="515.82" font-size="19.3" textLength="34.32" lengthAdjust="spacing">0.04</text>
<text x="527.58" y="471.83" font-size="19.3" textLength="34.32" lengthAdjust="spacing">0.06</text>
<text x="527.58" y="427.84" font-size="19.3" textLength="34.32" lengthAdjust="spacing">0.08</text>
<text x="527.58" y="383.85" font-size="19.3" textLength="34.32" lengthAdjust="spacing">0.10</text>
</g>
<g id="titles">
<text x="472.6" y="342" font-size="21" font-style="italic" textLength="15.33" lengthAdjust="spacingAndGlyphs">E</text>
<text x="488.46" y="344.94" font-size="14.7">1</text>
<text x="504.32" y="342" font-size="20.58" textLength="56.01" lengthAdjust="spacing">[MeV]</text>
<text x="240.9" y="677.7" font-size="19.3" font-style="italic" textLength="14.09" lengthAdjust="spacingAndGlyphs">E</text>
<text x="255.47" y="680.4" font-size="13.51">1</text>
<text x="270.14" y="677.7" font-size="18.91" textLength="51.47" lengthAdjust="spacing">[MeV]</text>
<text x="691.9" y="677.7" font-size="19.3" font-style="italic" textLength="14.09" lengthAdjust="spacingAndGlyphs">E</text>
<text x="706.47" y="680.4" font-size="13.51">1</text>
<text x="721.14" y="677.7" font-size="18.91" textLength="51.47" lengthAdjust="spacing">[MeV]</text>
<g transform="translate(37.4 293.6) rotate(-90)">
<text x="0" y="0" font-size="20.37" font-style="italic">d</text>
<text x="11.97" y="-8.4" font-size="14.7">2</text>
<text x="21" y="0" font-size="20.37" font-style="italic">σ</text>
<text x="31.5" y="2.94" font-size="15.14" font-style="italic" textLength="16.38" lengthAdjust="spacingAndGlyphs">br</text>
<line x1="49.98" y1="5.25" x2="58.17" y2="-15.75" stroke="#000" stroke-width="1.05"/>
<text x="59.24" y="0" font-size="20.37" font-style="italic">d</text>
<text x="70.56" y="0" font-size="21" font-style="italic" textLength="14.91" lengthAdjust="spacingAndGlyphs">E</text>
<text x="85.26" y="2.94" font-size="14.7">1</text>
<text x="93.89" y="0" font-size="20.37" font-style="italic">d</text>
<text x="104.81" y="0" font-size="20.37" font-style="italic">θ</text>
<text x="114.45" y="2.94" font-size="14.7">1</text>
<text x="131.1" y="0" font-size="20.79" textLength="135.51" lengthAdjust="spacing">[mb/(MeV sr)]</text>
</g>
<g transform="translate(35.3 609.6) rotate(-90)">
<text x="0" y="0" font-size="18.72" font-style="italic">d</text>
<text x="11" y="-7.72" font-size="13.51">2</text>
<text x="19.3" y="0" font-size="18.72" font-style="italic">σ</text>
<text x="28.95" y="2.7" font-size="13.92" font-style="italic" textLength="15.05" lengthAdjust="spacingAndGlyphs">br</text>
<line x1="45.93" y1="4.83" x2="53.46" y2="-14.48" stroke="#000" stroke-width="1.05"/>
<text x="54.45" y="0" font-size="18.72" font-style="italic">d</text>
<text x="64.85" y="0" font-size="19.3" font-style="italic" textLength="13.7" lengthAdjust="spacingAndGlyphs">E</text>
<text x="78.36" y="2.7" font-size="13.51">1</text>
<text x="86.29" y="0" font-size="18.72" font-style="italic">d</text>
<text x="96.33" y="0" font-size="18.72" font-style="italic">θ</text>
<text x="105.19" y="2.7" font-size="13.51">1</text>
<text x="120.49" y="0" font-size="19.11" textLength="124.54" lengthAdjust="spacing">[mb/(MeV sr)]</text>
</g>
<g transform="translate(480.3 609.6) rotate(-90)">
<text x="0" y="0" font-size="18.72" font-style="italic">d</text>
<text x="11" y="-7.72" font-size="13.51">2</text>
<text x="19.3" y="0" font-size="18.72" font-style="italic">σ</text>
<text x="28.95" y="2.7" font-size="13.92" font-style="italic" textLength="15.05" lengthAdjust="spacingAndGlyphs">br</text>
<line x1="45.93" y1="4.83" x2="53.46" y2="-14.48" stroke="#000" stroke-width="1.05"/>
<text x="54.45" y="0" font-size="18.72" font-style="italic">d</text>
<text x="64.85" y="0" font-size="19.3" font-style="italic" textLength="13.7" lengthAdjust="spacingAndGlyphs">E</text>
<text x="78.36" y="2.7" font-size="13.51">1</text>
<text x="86.29" y="0" font-size="18.72" font-style="italic">d</text>
<text x="96.33" y="0" font-size="18.72" font-style="italic">θ</text>
<text x="105.19" y="2.7" font-size="13.51">1</text>
<text x="120.49" y="0" font-size="19.11" textLength="124.54" lengthAdjust="spacing">[mb/(MeV sr)]</text>
</g>
<text x="310.2" y="106" font-size="21" font-style="italic" textLength="15.33" lengthAdjust="spacingAndGlyphs">E</text>
<text x="326" y="108.73" font-size="15.12" font-style="italic" textLength="20.8" lengthAdjust="spacingAndGlyphs">lab</text>
<rect x="354.3" y="96.4" width="14.01" height="1.05"/>
<rect x="354.3" y="101.5" width="14.01" height="1.05"/>
<text x="376.6" y="106" font-size="21" textLength="26.84" lengthAdjust="spacing">1.0</text>
<text x="410.4" y="106" font-size="21" textLength="47.4" lengthAdjust="spacing">GeV,</text>
<text x="464" y="106" font-size="21.84" font-style="italic">θ</text>
<text x="474.2" y="108.73" font-size="14.7">1</text>
<rect x="488.8" y="96.4" width="14.01" height="1.05"/>
<rect x="488.8" y="101.5" width="14.01" height="1.05"/>
<text x="511.8" y="106" font-size="21" textLength="21" lengthAdjust="spacing">18</text>
<text x="532.8" y="98.44" font-size="15.12" font-style="italic" textLength="9" lengthAdjust="spacingAndGlyphs">o</text>
</g>
</svg>
</body></html>
